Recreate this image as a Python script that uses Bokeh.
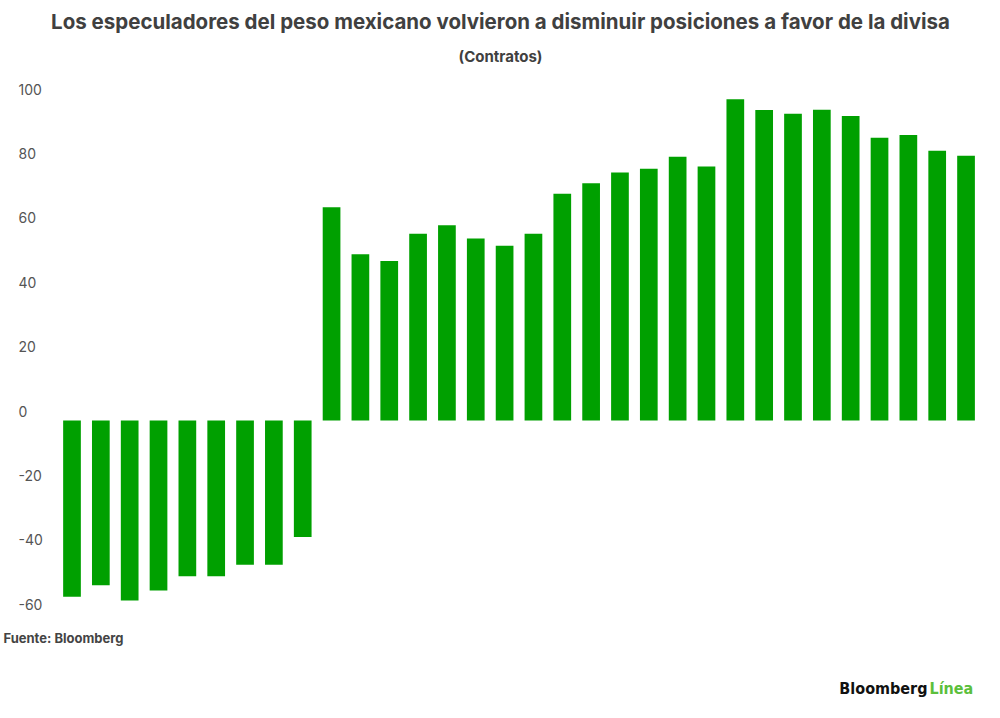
from bokeh.plotting import figure
from bokeh.models import Range1d, Label, LabelSet, ColumnDataSource
from bokeh.core.properties import value
from bokeh.embed import file_html
from bokeh.resources import INLINE

# Data (thousands of contracts)
weeks = list(range(32))
values = [-54.7, -51.2, -55.9, -52.8, -48.4, -48.4, -44.8, -44.8, -36.2,
          66.2, 51.6, 49.5, 58.0, 60.6, 56.5, 54.3, 58.0, 70.4, 73.7, 77.0,
          78.2, 81.9, 78.9, 99.8, 96.4, 95.3, 96.5, 94.6, 87.8, 88.7, 83.8, 82.2]
tick_values = [100, 80, 60, 40, 20, 0, -20, -40, -60]
tick_labels = [str(t) for t in tick_values]

title_text = "Los especuladores del peso mexicano volvieron a disminuir posiciones a favor de la divisa"
subtitle_text = "(Contratos)"
source_text = "Fuente: Bloomberg"

FONT = "Inter"
LOGO_FONT = "DejaVu Sans Condensed"
BAR = "#00a000"
W, H = 984, 700
PITCH = 28.84      # px per bar slot
X0 = 71.5          # px of first bar centre
Y0 = 420.0         # px of zero line
PX_PER_UNIT = 3.22

p = figure(width=W, height=H, output_backend="svg", toolbar_location=None,
           title=None, x_axis_location=None, y_axis_location=None,
           x_range=Range1d(-X0 / PITCH, (W - X0) / PITCH),
           y_range=Range1d(-(H - Y0) / PX_PER_UNIT, Y0 / PX_PER_UNIT),
           min_border_left=0, min_border_right=0, min_border_top=0,
           min_border_bottom=0)
p.outline_line_color = None
p.xgrid.visible = False
p.ygrid.visible = False
p.background_fill_color = "white"
p.border_fill_color = "white"

p.vbar(x=weeks, top=values, bottom=0, width=0.614, fill_color=BAR, line_color=None)

tsrc = ColumnDataSource(data=dict(y=tick_values, text=tick_labels))
p.add_layout(LabelSet(x=18, y="y", text="text", source=tsrc, x_units="screen",
                      y_units="data", y_offset=4, text_align="left",
                      text_baseline="alphabetic", text_font=value(FONT),
                      text_font_size=value("14px"), text_color=value("#555555")))

p.add_layout(Label(x=500, y=H - 20.5, x_units="screen", y_units="screen", text=title_text,
                   text_align="center", text_baseline="middle", text_font=FONT,
                   text_font_style="bold", text_font_size="20.5px", text_color="#404040"))
p.add_layout(Label(x=500, y=H - 56, x_units="screen", y_units="screen", text=subtitle_text,
                   text_align="center", text_baseline="middle", text_font=FONT,
                   text_font_style="bold", text_font_size="15px", text_color="#404040"))
p.add_layout(Label(x=3, y=H - 637, x_units="screen", y_units="screen", text=source_text,
                   text_align="left", text_baseline="middle", text_font=FONT,
                   text_font_style="bold", text_font_size="13px", text_color="#444444"))
p.add_layout(Label(x=927, y=H - 688, x_units="screen", y_units="screen", text="Bloomberg",
                   text_align="right", text_baseline="alphabetic",
                   text_font=LOGO_FONT, text_font_style="bold",
                   text_font_size="16px", text_color="#111111"))
p.add_layout(Label(x=929, y=H - 688, x_units="screen", y_units="screen", text="Línea",
                   text_align="left", text_baseline="alphabetic",
                   text_font=LOGO_FONT, text_font_style="bold",
                   text_font_size="16px", text_color="#5cbf3c"))

open("out.html", "w").write(file_html(p, INLINE))
